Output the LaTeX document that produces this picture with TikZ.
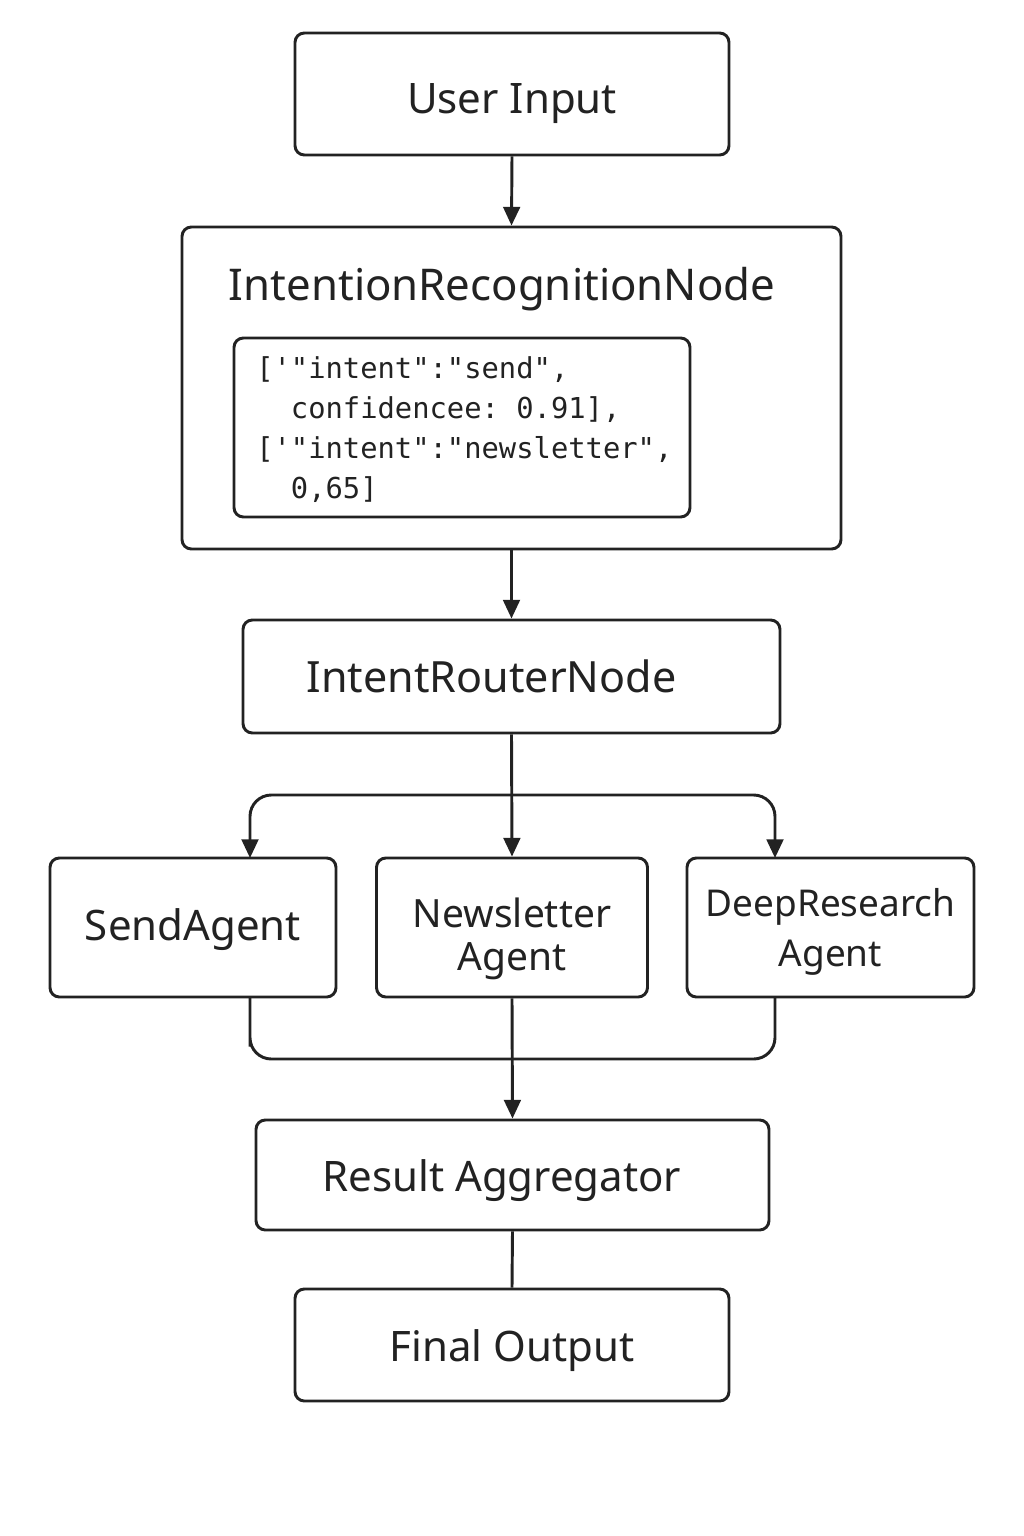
\documentclass[tikz,border=0pt]{standalone}
\usepackage{fontspec}
\setmainfont{Noto Sans}
\setmonofont{DejaVu Sans Mono}
\usetikzlibrary{arrows.meta}
\definecolor{ink}{HTML}{222222}
\begin{document}
\begin{tikzpicture}[x=0.75pt,y=-0.75pt,
  box/.style={draw=ink, line width=2.2pt, rounded corners=7pt, fill=white, inner sep=0pt, align=center, text=ink, font=\fontsize{31.5}{36}\selectfont, text height=33pt, text depth=9pt},
  conn/.style={draw=ink, line width=2.2pt},
  arr/.style={conn, -{Triangle[length=14pt,width=12.5pt]}},
]
\useasboundingbox[fill=white] (0,0) rectangle (1024,1536);

\node[box, text height=37.5pt, minimum width=325.5pt, minimum height=91.5pt] (ui) at (512,94) {User Input};
\node[box, minimum width=494.25pt, minimum height=241.5pt] (irn) at (511.5,388) {};
\node[anchor=base, inner sep=0pt, text=ink, font=\fontsize{32.8}{36}\selectfont] (irntitle) at (502,300) {IntentionRecognitionNode};
\node[box, minimum width=342pt, minimum height=134.25pt] (code) at (462,427.5) {};
\node[anchor=base west, text=ink, inner sep=0pt, align=left, font=\ttfamily\fontsize{21.6}{30}\selectfont] (codetext) at (256,498)
  {{[}'"intent":"send",\\{}%
  \ \ confidencee: 0.91],\\{}%
  {[}'"intent":"newsletter",\\{}%
  \ \ 0,65]};
\node[box, font=\fontsize{32.3}{36}\selectfont, minimum width=402.75pt, minimum height=84.75pt] (router) at (511.5,676.5) {IntentRouterNode\hspace*{30pt}};
\node[box, text height=27.8pt, minimum width=214.5pt, minimum height=104.25pt] (send) at (193,927.5) {SendAgent};
\node[box, font=\fontsize{29.2}{32.3}\selectfont, text height=74.2pt, minimum width=203.25pt, minimum height=104.25pt] (news) at (512,927.5) {Newsletter\\Agent};
\node[box, font=\fontsize{27.7}{37.5}\selectfont, text height=66.8pt, minimum width=215.25pt, minimum height=104.25pt] (deep) at (830.5,927.5) {DeepResearch\\Agent};
\node[box, minimum width=384.75pt, minimum height=82.5pt] (result) at (512.5,1175) {Result Aggregator\hspace*{16pt}};
\node[box, minimum width=325.5pt, minimum height=84pt] (final) at (512,1345) {Final Output};

\coordinate (split) at (512,795);
\coordinate (sendin) at (250,858);
\coordinate (deepin) at (775,858);
\coordinate (sendout) at (250,997);
\coordinate (deepout) at (775,997);
\coordinate (mergeL) at (250,1059);

\draw[arr] (ui.south) -- (irn.north);
\draw[arr] (irn.south) -- (router.north);
\draw[arr] (router.south) -- (news.north);
\draw[arr, rounded corners=16pt] (split) -| (sendin);
\draw[arr, rounded corners=16pt] (split) -| (deepin);
\draw[conn, rounded corners=16pt] (sendout) |- (mergeL) -| (deepout);
\draw[arr] (news.south) -- (result.north);
\draw[conn] (result.south) -- (final.north);
\end{tikzpicture}
\end{document}
